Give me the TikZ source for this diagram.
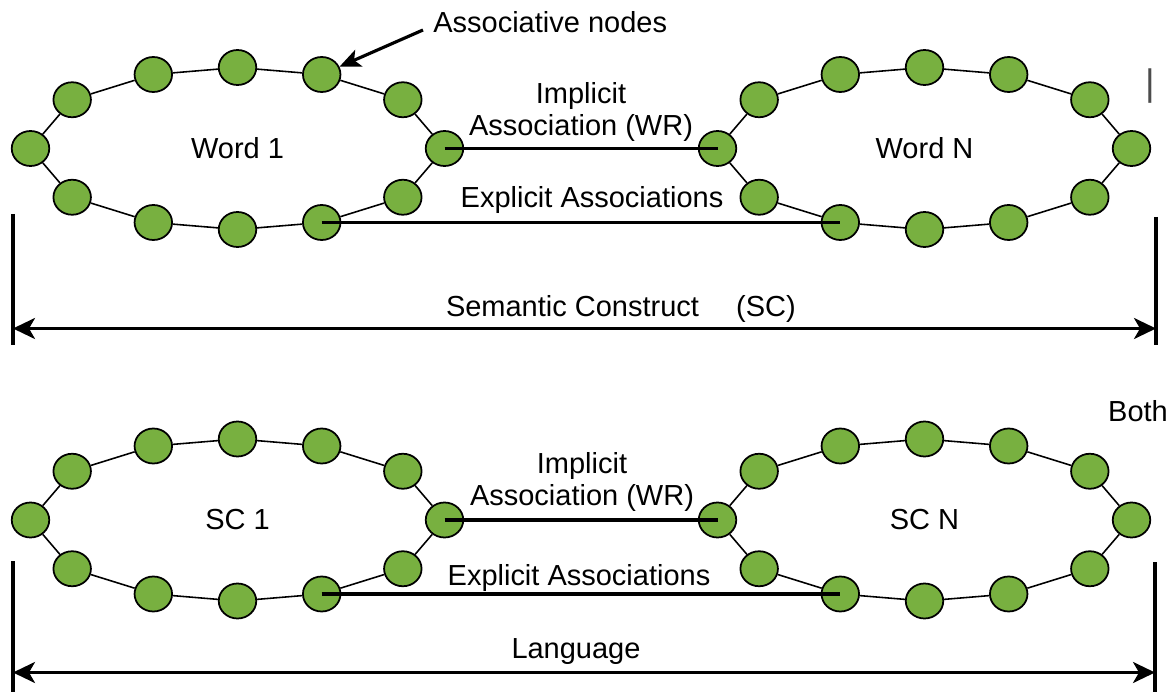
\documentclass[tikz,border=0pt]{standalone}
\usepackage{fontspec}
\setmainfont{Liberation Sans}
\usetikzlibrary{arrows.meta,calc,shapes.geometric}
\definecolor{nodegreen}{RGB}{120,176,64}
\tikzset{
    assoc/.style={ellipse,draw=black,line width=1pt,fill=nodegreen,minimum width=0.75cm,minimum height=0.7cm,inner sep=0pt},
    ring/.style={line width=0.9pt},
    link/.style={line width=2.2pt},
    tick/.style={line width=1.8pt},
    span/.style={line width=1.8pt,{Stealth[length=0.44cm,width=0.42cm,inset=0.12cm]}-{Stealth[length=0.44cm,width=0.42cm,inset=0.12cm]}},
    pointer/.style={line width=1.8pt,-{Stealth[length=0.42cm,width=0.36cm,inset=0.1cm]}},
    lbl/.style={inner sep=0pt,font=\fontsize{16.5}{18.7}\selectfont},
}
% ring of twelve associative nodes: name, centre, label
\newcommand{\assocring}[3]{%
    \foreach \a [count=\i from 0] in {0,37,66,90,114,143,180,217,246,270,294,323}
        \node[assoc] (#1-\i) at ($(#2)+(\a:4.14cm and 1.62cm)$) {};
    \foreach \i in {0,...,11}{
        \pgfmathtruncatemacro\j{mod(\i+1,12)}
        \draw[ring] (#1-\i) -- (#1-\j);
    }
    \node[lbl] (#1-label) at (#2) {#3};
}

\begin{document}
\begin{tikzpicture}
    \useasboundingbox (0,0) rectangle (23.52,13.82);
    \coordinate (cw1) at (4.75,10.85);
    \coordinate (cwn) at (18.49,10.85);
    \coordinate (csc1) at (4.75,3.42);
    \coordinate (cscn) at (18.49,3.42);

    \assocring{w1}{cw1}{Word 1}
    \assocring{wn}{cwn}{Word N}
    \assocring{sc1}{csc1}{SC 1}
    \assocring{scn}{cscn}{SC N}

    % links between the rings
    \draw[link] (w1-0.center) -- (wn-6.center);
    \draw[link] (w1-10.center) -- (wn-8.center);
    \draw[link] (sc1-0.center) -- (scn-6.center);
    \draw[link] (sc1-10.center) -- (scn-8.center);
    \node[lbl,align=center] (implw) at (11.62,11.58) {Implicit\\Association (WR)};
    \node[lbl,anchor=base] (explw) at (11.84,9.66) {Explicit Associations};
    \node[lbl,align=center] (implsc) at (11.64,4.18) {Implicit\\Association (WR)};
    \node[lbl,anchor=base] (explsc) at (11.58,2.12) {Explicit Associations};

    % pointer to one of the nodes
    \node[lbl,anchor=base west] (assoclbl) at (8.66,13.16) {Associative nodes};
    \coordinate (ptail) at (8.46,13.22);
    \draw[pointer] (ptail) -- (w1-2);

    % extent of the semantic construct
    \coordinate (sctl) at (0.26,9.54);
    \coordinate (scbl) at (0.26,6.92);
    \coordinate (sctr) at (23.12,9.48);
    \coordinate (scbr) at (23.12,6.92);
    \draw[tick] (sctl) -- (scbl);
    \draw[tick] (sctr) -- (scbr);
    \draw[span] (0.26,7.25) coordinate (scl) -- (23.12,7.25) coordinate (scr);
    \node[lbl,anchor=base] (sclbl) at (11.45,7.48) {Semantic Construct};
    \node[lbl,anchor=base] (scabbr) at (15.32,7.48) {(SC)};

    % extent of the language
    \coordinate (lgtl) at (0.26,2.6);
    \coordinate (lgbl) at (0.26,-0.1);
    \coordinate (lgtr) at (23.1,2.58);
    \coordinate (lgbr) at (23.1,-0.1);
    \draw[tick] (lgtl) -- (lgbl);
    \draw[tick] (lgtr) -- (lgbr);
    \draw[span] (0.26,0.37) coordinate (lgl) -- (23.1,0.37) coordinate (lgr);
    \node[lbl,anchor=base] (lglbl) at (11.52,0.66) {Language};

    \node[lbl,anchor=base] (both) at (22.76,5.38) {Both};
    \node[lbl,text=black!70,font=\fontsize{21}{24}\selectfont] (bar) at (23.0,12.09) {|};
\end{tikzpicture}
\end{document}
